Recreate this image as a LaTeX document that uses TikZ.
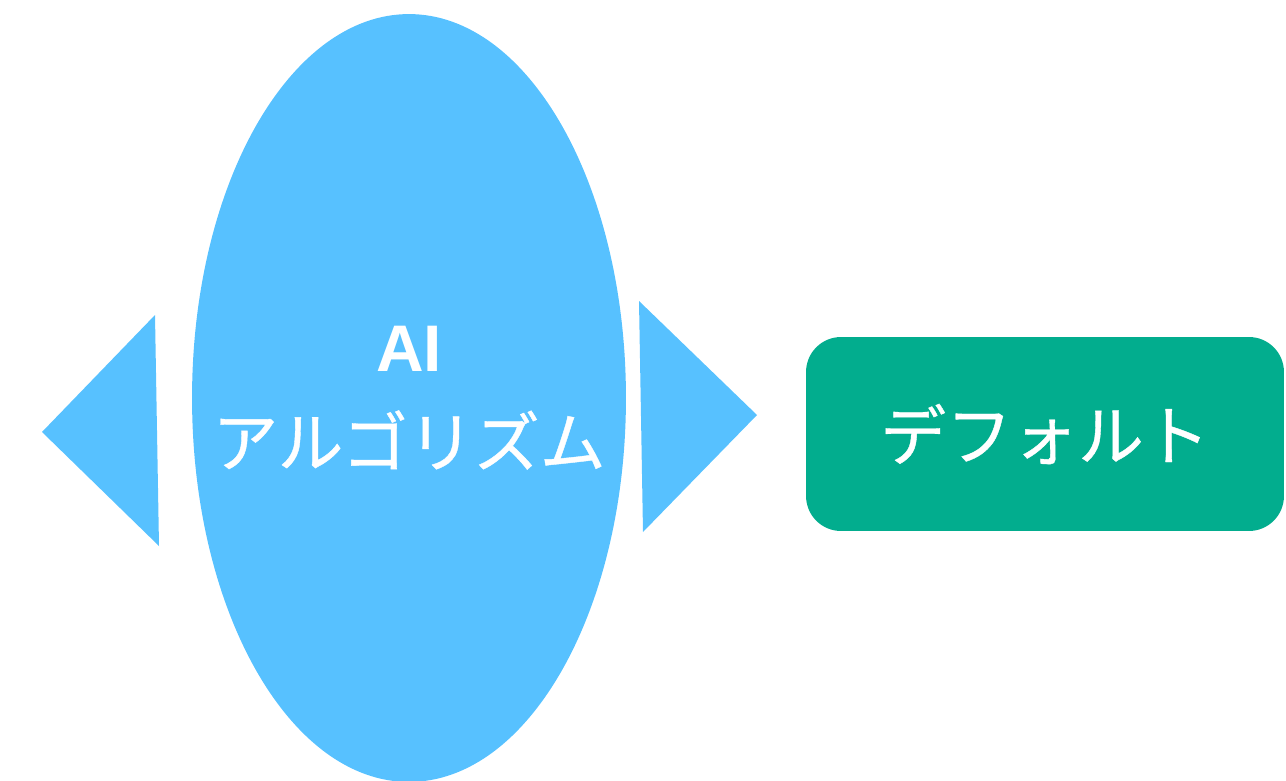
\documentclass[tikz,border=0pt]{standalone}
\usepackage{fontspec}
\usepackage{tikz}
\usetikzlibrary{shapes.geometric}
\newfontfamily\jpfont[FakeBold=0.6]{Noto Sans CJK JP}
\newfontfamily\aifont{Liberation Sans}
\definecolor{skyblue}{RGB}{87,193,255}
\definecolor{teal}{RGB}{2,173,142}

\begin{document}
\begin{tikzpicture}[x=0.02cm, y=-0.02cm,
				   every node/.style={text=white, align=center, font=\jpfont\fontsize{37.5}{54}\selectfont},
				   blob/.style={ellipse, fill=skyblue, minimum width=8.68cm, minimum height=15.36cm, inner sep=0pt},
				   tag/.style={rectangle, rounded corners=0.7cm, fill=teal, minimum width=9.56cm, minimum height=3.88cm}]
\useasboundingbox (0,0) rectangle (1286,781);
\node[blob] (algo) at (409,398) {};
\node (algotext) at (algo.center) {{\aifont\bfseries AI}\\アルゴリズム};
\node[tag] (default) at (1045,434) {デフォルト};
% side arrows
\fill[skyblue] (42,432) -- (155,315) -- (159,546) -- cycle;
\fill[skyblue] (639,301) -- (757,415) -- (643,532) -- cycle;
\end{tikzpicture}
\end{document}
